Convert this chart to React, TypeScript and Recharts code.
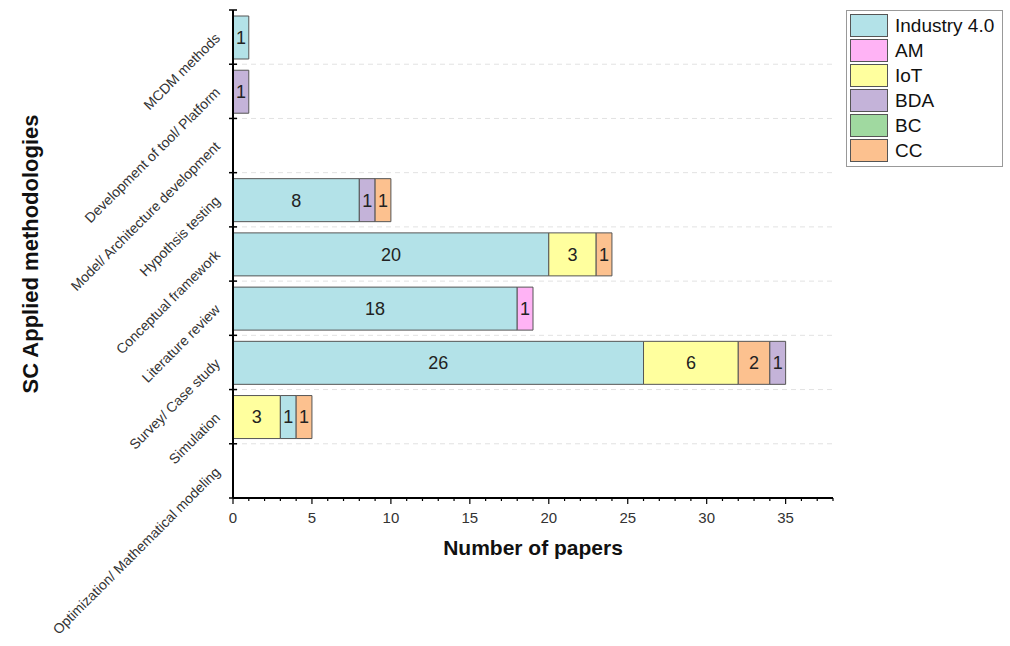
import {
  BarChart, Bar, XAxis, YAxis, CartesianGrid, LabelList, Label,
} from "recharts";

const categories = [
  "MCDM methods",
  "Development of tool/ Platform",
  "Model/ Architecture development",
  "Hypothsis testing",
  "Conceptual framework",
  "Literature review",
  "Survey/ Case study",
  "Simulation",
  "Optimization/ Mathematical modeling",
];

// stack segments, in the order they are drawn left to right
const iotLead = [0, 0, 0, 0, 0, 0, 0, 3, 0];
const industry = [1, 0, 0, 8, 20, 18, 26, 1, 0];
const am = [0, 0, 0, 0, 0, 1, 0, 0, 0];
const iot = [0, 0, 0, 0, 3, 0, 6, 0, 0];
const bdaMid = [0, 1, 0, 1, 0, 0, 0, 0, 0];
const cc = [0, 0, 0, 1, 1, 0, 2, 1, 0];
const bdaTail = [0, 0, 0, 0, 0, 0, 1, 0, 0];

const xTicks = Array.from({ length: 39 }, (_, i) => i);

const COLORS: Record<string, string> = {
  "Industry 4.0": "#b3e2e8",
  AM: "#ffb3f5",
  IoT: "#ffff9e",
  BDA: "#c4b3d9",
  BC: "#a0d9a0",
  CC: "#fcc18f",
};
const legendItems = ["Industry 4.0", "AM", "IoT", "BDA", "BC", "CC"];

const data = categories.map((name, i) => ({
  name,
  iotLead: iotLead[i],
  industry: industry[i],
  am: am[i],
  iot: iot[i],
  bdaMid: bdaMid[i],
  cc: cc[i],
  bdaTail: bdaTail[i],
}));

const SERIES = [
  { key: "iotLead", group: "IoT" },
  { key: "industry", group: "Industry 4.0" },
  { key: "am", group: "AM" },
  { key: "iot", group: "IoT" },
  { key: "bdaMid", group: "BDA" },
  { key: "cc", group: "CC" },
  { key: "bdaTail", group: "BDA" },
];

const W = 1010;
const H = 646;
const TOP = 10;
const X_AXIS_H = 148;
const PLOT_H = H - TOP - X_AXIS_H;
const HALF_BAND = PLOT_H / categories.length / 2;

function CategoryTick(props: any) {
  const { x, y, payload, index } = props;
  const last = index === categories.length - 1;
  const tx = x - 12;
  const ty = y + 2;
  return (
    <g>
      <line x1={x - 4} x2={x + 4} y1={y - HALF_BAND} y2={y - HALF_BAND} stroke="#000" strokeWidth={1.5} />
      {last && (
        <line x1={x - 4} x2={x + 4} y1={y + HALF_BAND} y2={y + HALF_BAND} stroke="#000" strokeWidth={1.5} />
      )}
      <text
        x={tx}
        y={ty}
        textAnchor="end"
        fontSize={14}
        fill="#333"
        transform={`rotate(-45 ${tx} ${ty})`}
      >
        {payload.value}
      </text>
    </g>
  );
}

function NumberTick(props: any) {
  const { x, y, payload } = props;
  const major = payload.value % 5 === 0;
  return (
    <g>
      <line x1={x} x2={x} y1={y} y2={y + (major ? 6 : 3)} stroke="#000" strokeWidth={1.2} />
      {major && (
        <text x={x} y={y + 25} textAnchor="middle" fontSize={15} fill="#333">
          {payload.value}
        </text>
      )}
    </g>
  );
}

function LegendBox() {
  return (
    <div
      style={{
        position: "absolute",
        left: 846,
        top: 10,
        border: "1px solid #999",
        background: "#fff",
        width: 157,
        padding: "2px 0 3px 3px",
        boxSizing: "border-box",
      }}
    >
      {legendItems.map((name) => (
        <div key={name} style={{ display: "flex", alignItems: "center", height: 25 }}>
          <div
            style={{
              width: 38,
              height: 23,
              background: COLORS[name],
              border: "1px solid #555",
              boxSizing: "border-box",
            }}
          />
          <span style={{ marginLeft: 7, fontSize: 19, color: "#111" }}>{name}</span>
        </div>
      ))}
    </div>
  );
}

export default function App() {
  return (
    <div
      style={{
        position: "absolute",
        left: 0,
        top: 0,
        width: W,
        height: H,
        background: "#fff",
        fontFamily: "'Liberation Sans', Arial, sans-serif",
      }}
    >
      <BarChart
        width={W}
        height={H}
        data={data}
        layout="vertical"
        margin={{ top: TOP, right: 177, bottom: 0, left: 0 }}
        barSize={43}
      >
        <CartesianGrid
          vertical={false}
          stroke="#e2e2e2"
          strokeDasharray="5 4"
          horizontalCoordinatesGenerator={({ offset }: any) =>
            categories.slice(1).map((_, i) => offset.top + ((i + 1) * offset.height) / categories.length)
          }
        />
        <XAxis
          type="number"
          domain={[0, 38]}
          ticks={xTicks}
          interval={0}
          height={X_AXIS_H}
          tickSize={0}
          tickMargin={0}
          tick={<NumberTick />}
          axisLine={{ stroke: "#000", strokeWidth: 2 }}
        >
          <Label
            content={({ viewBox }: any) => (
              <text
                x={viewBox.x + viewBox.width / 2}
                y={viewBox.y + 57}
                textAnchor="middle"
                fontSize={21}
                fontWeight="bold"
                fill="#111"
              >
                Number of papers
              </text>
            )}
          />
        </XAxis>
        <XAxis
          xAxisId="top"
          orientation="top"
          type="number"
          domain={[0, 38]}
          height={0}
          tick={false}
          tickLine={false}
          axisLine={{ stroke: "#222", strokeWidth: 1.5 }}
        />
        <YAxis
          type="category"
          dataKey="name"
          width={233}
          interval={0}
          tickSize={0}
          tickMargin={0}
          tick={<CategoryTick />}
          axisLine={{ stroke: "#000", strokeWidth: 2 }}
        >
          <Label
            content={({ viewBox }: any) => {
              const cx = 30;
              const cy = viewBox.y + viewBox.height / 2;
              return (
                <text
                  x={cx}
                  y={cy}
                  textAnchor="middle"
                  dominantBaseline="central"
                  fontSize={22}
                  fontWeight="bold"
                  fill="#111"
                  transform={`rotate(-90 ${cx} ${cy})`}
                >
                  SC Applied methodologies
                </text>
              );
            }}
          />
        </YAxis>
        <YAxis
          yAxisId="right"
          orientation="right"
          type="category"
          dataKey="name"
          width={0}
          tick={false}
          tickLine={false}
          axisLine={{ stroke: "#222", strokeWidth: 1.5 }}
        />
        {SERIES.map((s) => (
          <Bar
            key={s.key}
            dataKey={s.key}
            stackId="a"
            fill={COLORS[s.group]}
            stroke="#555"
            strokeWidth={1}
            isAnimationActive={false}
          >
            <LabelList
              dataKey={s.key}
              position="center"
              fontSize={18}
              fill="#222"
              formatter={(v: any) => (v ? v : "")}
            />
          </Bar>
        ))}
      </BarChart>
      <LegendBox />
    </div>
  );
}
